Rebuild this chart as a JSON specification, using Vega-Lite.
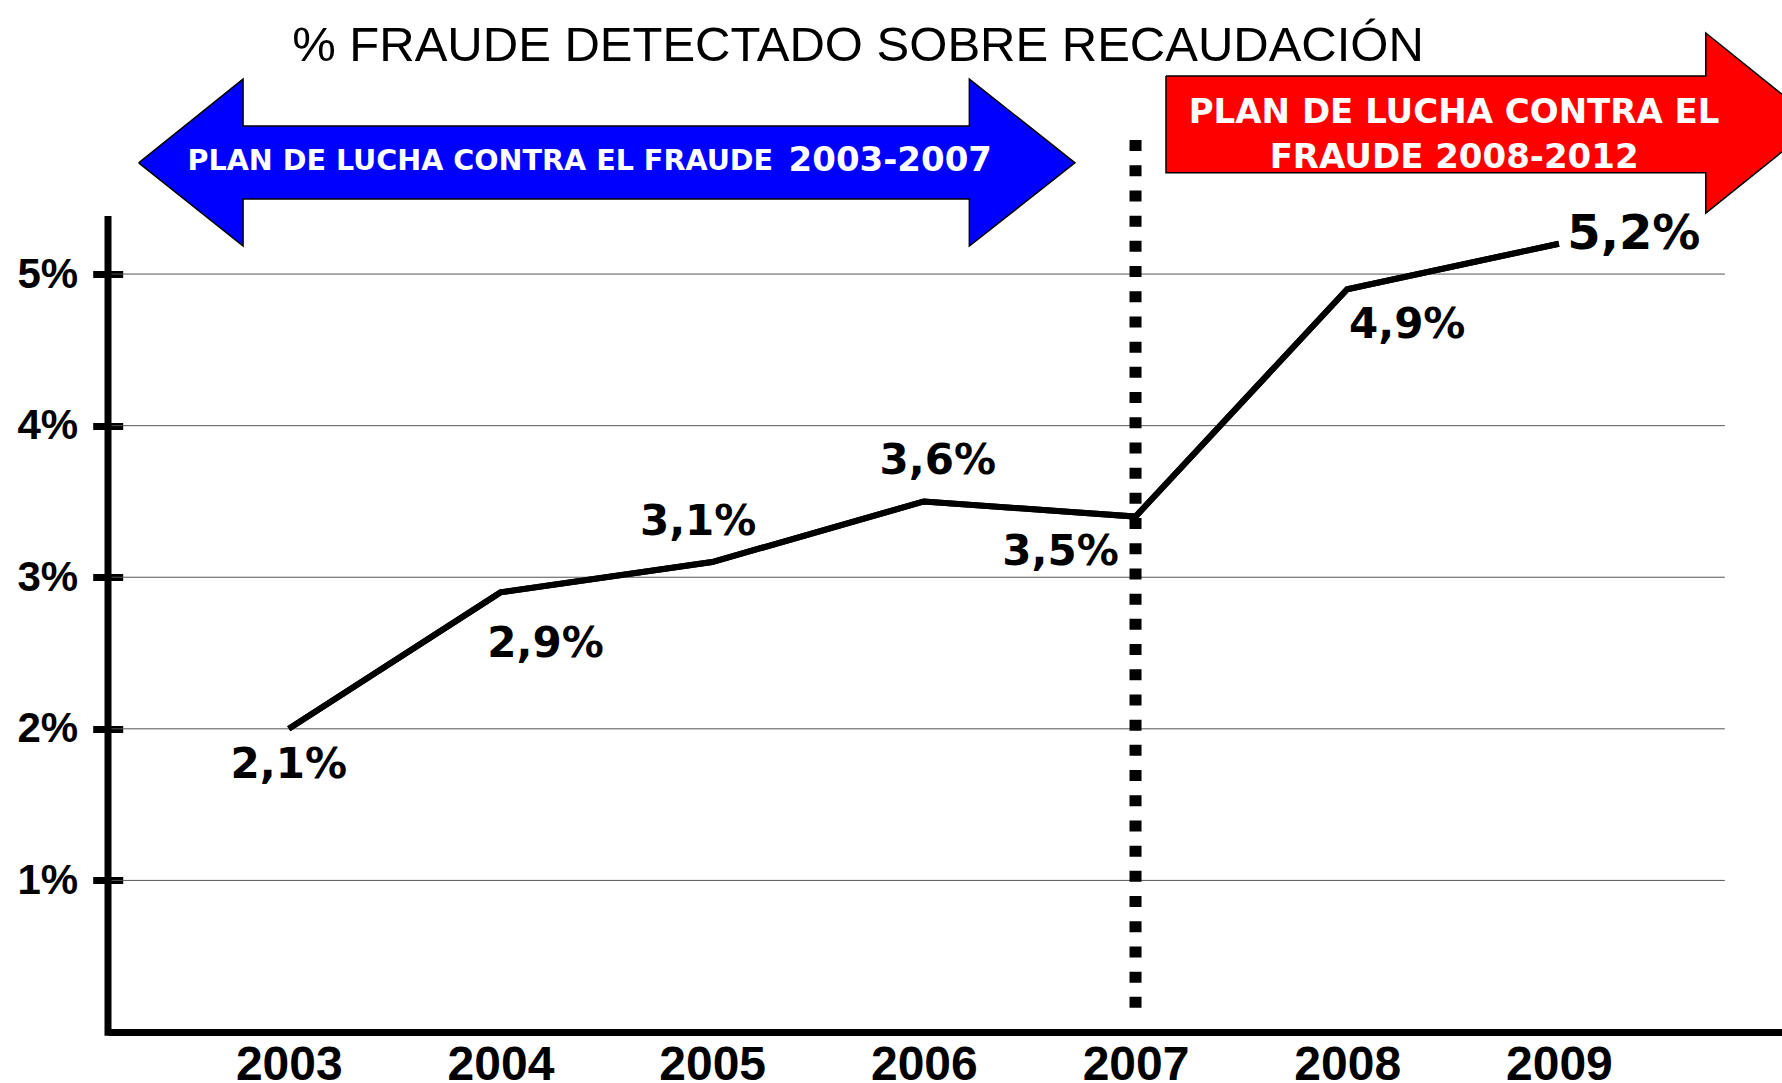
{
  "$schema": "https://vega.github.io/schema/vega-lite/v6.json",
  "width": 1674,
  "height": 816,
  "autosize": {"type": "none"},
  "padding": {"left": 108, "top": 216, "right": 0, "bottom": 51},
  "background": "white",
  "title": {
    "text": "% FRAUDE DETECTADO SOBRE RECAUDACIÓN",
    "font": "Liberation Sans",
    "fontSize": 49,
    "fontWeight": "normal",
    "color": "black",
    "anchor": "middle",
    "frame": "group",
    "dx": -87,
    "dy": 28,
    "baseline": "alphabetic",
    "offset": -52
  },
  "config": {"view": {"stroke": null}},
  "datasets": {
    "serie": [
      {"year": 2003, "value": 2.0, "label": "2,1%"},
      {"year": 2004, "value": 2.9, "label": "2,9%"},
      {"year": 2005, "value": 3.1, "label": "3,1%"},
      {"year": 2006, "value": 3.5, "label": "3,6%"},
      {"year": 2007, "value": 3.4, "label": "3,5%"},
      {"year": 2008, "value": 4.9, "label": "4,9%"},
      {"year": 2009, "value": 5.2, "label": "5,2%"}
    ],
    "flechas": [
      {"plan": "2003-2007", "i": 0, "year": 2002.291, "value": 5.734},
      {"plan": "2003-2007", "i": 1, "year": 2002.784, "value": 6.286},
      {"plan": "2003-2007", "i": 2, "year": 2002.784, "value": 5.976},
      {"plan": "2003-2007", "i": 3, "year": 2006.215, "value": 5.976},
      {"plan": "2003-2007", "i": 4, "year": 2006.215, "value": 6.286},
      {"plan": "2003-2007", "i": 5, "year": 2006.714, "value": 5.734},
      {"plan": "2003-2007", "i": 6, "year": 2006.215, "value": 5.185},
      {"plan": "2003-2007", "i": 7, "year": 2006.215, "value": 5.495},
      {"plan": "2003-2007", "i": 8, "year": 2002.784, "value": 5.495},
      {"plan": "2003-2007", "i": 9, "year": 2002.784, "value": 5.185},
      {"plan": "2003-2007", "i": 10, "year": 2002.291, "value": 5.734},
      {"plan": "2008-2012", "i": 0, "year": 2007.144, "value": 6.306},
      {"plan": "2008-2012", "i": 1, "year": 2009.694, "value": 6.306},
      {"plan": "2008-2012", "i": 2, "year": 2009.694, "value": 6.59},
      {"plan": "2008-2012", "i": 3, "year": 2010.223, "value": 5.996},
      {"plan": "2008-2012", "i": 4, "year": 2009.694, "value": 5.402},
      {"plan": "2008-2012", "i": 5, "year": 2009.694, "value": 5.668},
      {"plan": "2008-2012", "i": 6, "year": 2007.144, "value": 5.668},
      {"plan": "2008-2012", "i": 7, "year": 2007.144, "value": 6.306}
    ]
  },
  "data": {"name": "serie"},
  "layer": [
    {
      "mark": {"type": "line", "color": "black", "strokeWidth": 6, "strokeJoin": "miter", "strokeCap": "butt"},
      "encoding": {
        "x": {
          "field": "year", "type": "quantitative", "title": null,
          "scale": {"domain": [2002.146, 2010.054], "nice": false, "zero": false},
          "axis": {
            "values": [2003, 2004, 2005, 2006, 2007, 2008, 2009],
            "format": "d",
            "grid": false,
            "ticks": false,
            "tickSize": 0,
            "domain": true,
            "domainColor": "black",
            "domainWidth": 7,
            "labelFont": "Liberation Sans",
            "labelFontWeight": "bold",
            "labelFontSize": 48,
            "labelColor": "black",
            "labelPadding": 9,
            "labelBaseline": "top",
            "labelFlush": false,
            "labelOverlap": false
          }
        },
        "y": {
          "field": "value", "type": "quantitative", "title": null,
          "scale": {"domain": [0, 5.383], "nice": false, "zero": false},
          "axis": {
            "values": [1, 2, 3, 4, 5],
            "labelExpr": "datum.value + '%'",
            "grid": false,
            "domain": false,
            "offset": -14.7,
            "ticks": true,
            "tickSize": 30,
            "tickWidth": 7,
            "tickColor": "black",
            "labelFont": "Liberation Sans",
            "labelFontWeight": "bold",
            "labelFontSize": 42,
            "labelColor": "black",
            "labelPadding": 15,
            "labelBaseline": "middle",
            "labelFlush": false,
            "labelOverlap": false
          }
        }
      }
    },
    {
      "data": {"values": [{"value": 1}, {"value": 2}, {"value": 3}, {"value": 4}, {"value": 5}]},
      "mark": {"type": "rule", "color": "#555555", "strokeWidth": 1},
      "encoding": {
        "y": {"field": "value", "type": "quantitative", "title": null},
        "x": {"datum": 2002.146},
        "x2": {"datum": 2009.784}
      }
    },
    {
      "data": {"name": "flechas"},
      "transform": [{"filter": "datum.plan == '2003-2007'"}],
      "mark": {"type": "line", "fill": "#0000FF", "stroke": "black", "strokeWidth": 1.5, "strokeJoin": "miter", "interpolate": "linear"},
      "encoding": {
        "x": {"field": "year", "type": "quantitative", "title": null},
        "y": {"field": "value", "type": "quantitative", "title": null},
        "order": {"field": "i", "type": "quantitative"}
      }
    },
    {
      "data": {"name": "flechas"},
      "transform": [{"filter": "datum.plan == '2008-2012'"}],
      "mark": {"type": "line", "fill": "#FF0000", "stroke": "black", "strokeWidth": 1.5, "strokeJoin": "miter", "interpolate": "linear"},
      "encoding": {
        "x": {"field": "year", "type": "quantitative", "title": null},
        "y": {"field": "value", "type": "quantitative", "title": null},
        "order": {"field": "i", "type": "quantitative"}
      }
    },
    {
      "data": {"values": [{}]},
      "mark": {"type": "rule", "color": "black", "strokeWidth": 7, "strokeCap": "butt"},
      "encoding": {
        "x": {"datum": 2002.146},
        "y": {"datum": -0.025},
        "y2": {"datum": 5.383}
      }
    },
    {
      "data": {"values": [{}]},
      "mark": {"type": "rule", "color": "black", "strokeWidth": 12, "strokeDash": [11, 14.2], "strokeCap": "butt"},
      "encoding": {
        "x": {"datum": 2007},
        "y": {"datum": 5.884},
        "y2": {"datum": 0.12}
      }
    },
    {
      "mark": {"type": "line", "color": "black", "strokeWidth": 6, "strokeJoin": "miter", "strokeCap": "butt"},
      "encoding": {
        "x": {"field": "year", "type": "quantitative", "title": null},
        "y": {"field": "value", "type": "quantitative", "title": null}
      }
    },
    {
      "transform": [{"filter": "datum.year == 2003"}],
      "mark": {"type": "text", "font": "DejaVu Sans", "fontWeight": "bold", "fontSize": 42, "color": "black", "align": "center", "baseline": "alphabetic", "dx": 0, "dy": 49},
      "encoding": {"x": {"field": "year", "type": "quantitative", "title": null}, "y": {"field": "value", "type": "quantitative", "title": null}, "text": {"field": "label"}}
    },
    {
      "transform": [{"filter": "datum.year == 2004"}],
      "mark": {"type": "text", "font": "DejaVu Sans", "fontWeight": "bold", "fontSize": 42, "color": "black", "align": "center", "baseline": "alphabetic", "dx": 45, "dy": 65},
      "encoding": {"x": {"field": "year", "type": "quantitative", "title": null}, "y": {"field": "value", "type": "quantitative", "title": null}, "text": {"field": "label"}}
    },
    {
      "transform": [{"filter": "datum.year == 2005"}],
      "mark": {"type": "text", "font": "DejaVu Sans", "fontWeight": "bold", "fontSize": 42, "color": "black", "align": "center", "baseline": "alphabetic", "dx": -14, "dy": -27},
      "encoding": {"x": {"field": "year", "type": "quantitative", "title": null}, "y": {"field": "value", "type": "quantitative", "title": null}, "text": {"field": "label"}}
    },
    {
      "transform": [{"filter": "datum.year == 2006"}],
      "mark": {"type": "text", "font": "DejaVu Sans", "fontWeight": "bold", "fontSize": 42, "color": "black", "align": "center", "baseline": "alphabetic", "dx": 14, "dy": -27},
      "encoding": {"x": {"field": "year", "type": "quantitative", "title": null}, "y": {"field": "value", "type": "quantitative", "title": null}, "text": {"field": "label"}}
    },
    {
      "transform": [{"filter": "datum.year == 2007"}],
      "mark": {"type": "text", "font": "DejaVu Sans", "fontWeight": "bold", "fontSize": 42, "color": "black", "align": "center", "baseline": "alphabetic", "dx": -75, "dy": 48},
      "encoding": {"x": {"field": "year", "type": "quantitative", "title": null}, "y": {"field": "value", "type": "quantitative", "title": null}, "text": {"field": "label"}}
    },
    {
      "transform": [{"filter": "datum.year == 2008"}],
      "mark": {"type": "text", "font": "DejaVu Sans", "fontWeight": "bold", "fontSize": 42, "color": "black", "align": "center", "baseline": "alphabetic", "dx": 60, "dy": 49},
      "encoding": {"x": {"field": "year", "type": "quantitative", "title": null}, "y": {"field": "value", "type": "quantitative", "title": null}, "text": {"field": "label"}}
    },
    {
      "transform": [{"filter": "datum.year == 2009"}],
      "mark": {"type": "text", "font": "DejaVu Sans", "fontWeight": "bold", "fontSize": 48, "color": "black", "align": "center", "baseline": "alphabetic", "dx": 75, "dy": 5},
      "encoding": {"x": {"field": "year", "type": "quantitative", "title": null}, "y": {"field": "value", "type": "quantitative", "title": null}, "text": {"field": "label"}}
    },
    {
      "data": {"values": [{}]},
      "mark": {"type": "text", "font": "DejaVu Sans", "fontWeight": "bold", "fontSize": 28.6, "color": "white", "align": "left", "baseline": "alphabetic"},
      "encoding": {"x": {"datum": 2002.5215}, "y": {"datum": 5.686}, "text": {"value": "PLAN DE LUCHA CONTRA EL FRAUDE"}}
    },
    {
      "data": {"values": [{}]},
      "mark": {"type": "text", "font": "DejaVu Sans", "fontWeight": "bold", "fontSize": 34, "color": "white", "align": "right", "baseline": "alphabetic"},
      "encoding": {"x": {"datum": 2006.322}, "y": {"datum": 5.68}, "text": {"value": "2003-2007"}}
    },
    {
      "data": {"values": [{}]},
      "mark": {"type": "text", "font": "DejaVu Sans", "fontWeight": "bold", "fontSize": 34, "color": "white", "align": "center", "baseline": "alphabetic", "lineHeight": 45},
      "encoding": {"x": {"datum": 2008.505}, "y": {"datum": 5.996}, "text": {"value": ["PLAN DE LUCHA CONTRA EL", "FRAUDE 2008-2012"]}}
    }
  ]
}
